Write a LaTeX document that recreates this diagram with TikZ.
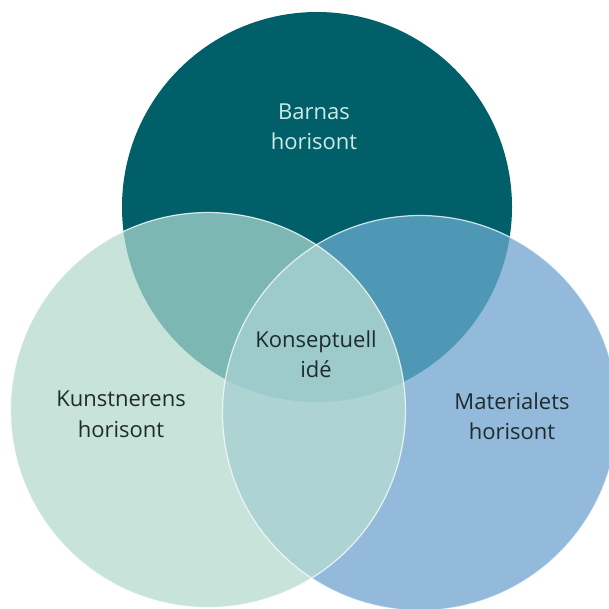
\documentclass[tikz,border=0pt]{standalone}
\usepackage{fontspec}
\setmainfont{Open Sans}
\definecolor{Tcol}{HTML}{005F69}
\definecolor{Lcol}{HTML}{C7E3DA}
\definecolor{Rcol}{HTML}{93BADA}
\definecolor{TLcol}{HTML}{7DB7B4}
\definecolor{TRcol}{HTML}{4F98B5}
\definecolor{LRcol}{HTML}{AED3D3}
\definecolor{TLRcol}{HTML}{9DCACA}
\definecolor{lighttxt}{HTML}{CDEBE6}
\definecolor{darktxt}{HTML}{1E2C2E}
\tikzset{
  lbl/.style={align=center, font=\fontsize{22}{30.5}\selectfont, inner sep=0pt},
  rim/.style={draw=white, line width=1.2pt, draw opacity=0.75}
}
\begin{document}
\begin{tikzpicture}[x=1pt,y=-1pt]
\useasboundingbox (0,0) rectangle (609,608);
\clip (0,0) rectangle (609,608);
\coordinate (cT) at (317,207);
\coordinate (cL) at (208,410);
\coordinate (cR) at (420,413);
\def\rT{195}
\def\rL{197.5}
\def\rR{197.5}
\fill[Tcol] (cT) circle[radius=\rT];
\fill[Lcol] (cL) circle[radius=\rL];
\fill[Rcol] (cR) circle[radius=\rR];
\begin{scope}
  \clip (cT) circle[radius=\rT];
  \fill[TLcol] (cL) circle[radius=\rL];
  \fill[TRcol] (cR) circle[radius=\rR];
\end{scope}
\begin{scope}
  \clip (cL) circle[radius=\rL];
  \fill[LRcol] (cR) circle[radius=\rR];
\end{scope}
\begin{scope}
  \clip (cT) circle[radius=\rT];
  \clip (cL) circle[radius=\rL];
  \fill[TLRcol] (cR) circle[radius=\rR];
\end{scope}
\draw[rim] (cL) circle[radius=\rL];
\draw[rim] (cR) circle[radius=\rR];
\node[lbl, text=lighttxt] (barnas) at (314,127) {Barnas\\horisont};
\node[lbl, text=darktxt] (ide) at (316,354) {Konseptuell\\idé};
\node[lbl, text=darktxt] (kunst) at (121,414) {Kunstnerens\\horisont};
\node[lbl, text=darktxt] (mat) at (512,416) {Materialets\\horisont};
\end{tikzpicture}
\end{document}
